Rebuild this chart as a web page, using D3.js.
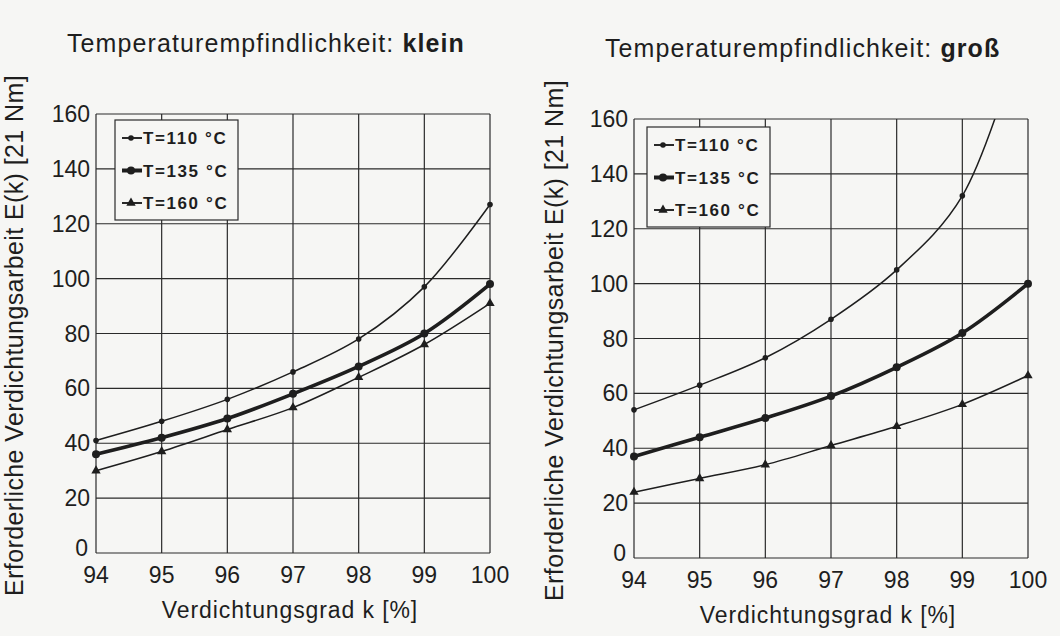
<!DOCTYPE html>
<html>
<head>
<meta charset="utf-8">
<script src="https://cdn.jsdelivr.net/npm/d3@7"></script>
<style>
  body { margin: 0; background: #f6f6f4; }
  svg { display: block; font-family: "Liberation Sans", Arial, sans-serif; }
</style>
</head>
<body>
<svg id="chart" width="1060" height="636"></svg>
<script>
// compaction degree k [%]
var kValues = [94, 95, 96, 97, 98, 99, 100];
var yTicks = [0, 20, 40, 60, 80, 100, 120, 140, 160];
var seriesNames = ["T=110 °C", "T=135 °C", "T=160 °C"];

// Temperaturempfindlichkeit: klein
var kleinT110 = [41, 48, 56, 66, 78, 97, 127];
var kleinT135 = [36, 42, 49, 58, 68, 80, 98];
var kleinT160 = [30, 37, 45, 53, 64, 76, 91];

// Temperaturempfindlichkeit: groß
var grossT110 = [54, 63, 73, 87, 105, 132, 198];
var grossT135 = [37, 44, 51, 59, 69.5, 82, 100];
var grossT160 = [24, 29, 34, 41, 48, 56, 66.5];

var ink = "#1e1e1e";
var svg = d3.select("#chart");

function drawPanel(opt) {
    var x = d3.scaleLinear().domain([94, 100]).range([opt.left, opt.right]);
    var y = d3.scaleLinear().domain([0, 160]).range([opt.bottom, opt.top]);
    var g = svg.append("g");

    // grid
    g.append("g").selectAll("line.v").data(kValues).enter().append("line")
        .attr("x1", function (d) { return x(d); }).attr("x2", function (d) { return x(d); })
        .attr("y1", y(0)).attr("y2", y(160))
        .attr("stroke", "#2a2a2a").attr("stroke-width", 1.2);
    g.append("g").selectAll("line.h").data(yTicks).enter().append("line")
        .attr("x1", x(94)).attr("x2", x(100))
        .attr("y1", function (d) { return y(d); }).attr("y2", function (d) { return y(d); })
        .attr("stroke", "#2a2a2a").attr("stroke-width", 1.2);

    // tick labels
    g.append("g").selectAll("text").data(yTicks).enter().append("text")
        .attr("x", function (d) { return x(94) - (d === 0 ? 8 : 6); })
        .attr("y", function (d) { return y(d) + (d === 0 ? 3 : 8); })
        .attr("text-anchor", "end").attr("font-size", 23).attr("fill", ink)
        .text(function (d) { return d; });
    g.append("g").selectAll("text").data(kValues).enter().append("text")
        .attr("x", function (d) { return x(d); }).attr("y", y(0) + 30)
        .attr("text-anchor", "middle").attr("font-size", 23).attr("fill", ink)
        .text(function (d) { return d; });

    // axis titles
    g.append("text")
        .attr("x", (x(94) + x(100)) / 2 - 3).attr("y", y(0) + 65)
        .attr("text-anchor", "middle").attr("font-size", 23).attr("letter-spacing", 0.9).attr("fill", ink)
        .text("Verdichtungsgrad k [%]");
    g.append("text")
        .attr("transform", "translate(" + (x(94) - opt.yLabDx) + "," + ((y(0) + y(160)) / 2 + 2) + ") rotate(-90)")
        .attr("text-anchor", "middle").attr("font-size", 25).attr("letter-spacing", 0.4).attr("fill", ink)
        .text("Erforderliche Verdichtungsarbeit E(k)  [21 Nm]");

    // title
    var t = g.append("text").attr("x", opt.titleX).attr("y", opt.titleY)
        .attr("font-size", 25).attr("letter-spacing", 1.1).attr("fill", ink);
    t.append("tspan").text("Temperaturempfindlichkeit: ");
    t.append("tspan").attr("font-weight", "bold").text(opt.word);

    // series
    var clipId = "clip" + opt.word.length;
    svg.append("clipPath").attr("id", clipId).append("rect")
        .attr("x", x(94) - 10).attr("y", y(160)).attr("width", x(100) - x(94) + 20).attr("height", y(0) - y(160) + 10);

    var line = d3.line()
        .x(function (d, i) { return x(kValues[i]); })
        .y(function (d) { return y(d); })
        .curve(d3.curveCatmullRom.alpha(0.5));

    var widths = [1.5, 3.6, 1.5];
    var plot = g.append("g").attr("clip-path", "url(#" + clipId + ")");
    opt.series.forEach(function (vals, s) {
        plot.append("path").attr("d", line(vals))
            .attr("fill", "none").attr("stroke", ink).attr("stroke-width", widths[s]);
        vals.forEach(function (v, i) {
            if (v > 160) return;
            drawMarker(plot, s, x(kValues[i]), y(v));
        });
    });

    // legend
    var lg = g.append("g").attr("transform", "translate(" + opt.legX + "," + opt.legY + ")");
    lg.append("rect").attr("width", 123).attr("height", 100)
        .attr("fill", "#f6f6f4").attr("stroke", "#2a2a2a").attr("stroke-width", 1.2);
    seriesNames.forEach(function (name, s) {
        var yy = 18 + s * 32.5;
        lg.append("line").attr("x1", 7).attr("x2", 27).attr("y1", yy).attr("y2", yy)
            .attr("stroke", ink).attr("stroke-width", widths[s] + 0.4);
        drawMarker(lg, s, 16, yy);
        lg.append("text").attr("x", 28).attr("y", yy + 6)
            .attr("font-size", 17).attr("font-weight", "bold").attr("letter-spacing", 1.6).attr("fill", ink)
            .text(name);
    });
}

function drawMarker(sel, s, cx, cy) {
    if (s === 0) {
        sel.append("circle").attr("cx", cx).attr("cy", cy).attr("r", 2.8).attr("fill", ink);
    } else if (s === 1) {
        sel.append("circle").attr("cx", cx).attr("cy", cy).attr("r", 4).attr("fill", ink);
    } else {
        sel.append("path")
            .attr("d", d3.symbol().type(d3.symbolTriangle).size(38)())
            .attr("transform", "translate(" + cx + "," + cy + ")")
            .attr("fill", ink);
    }
}

drawPanel({
    left: 96, right: 490, top: 114, bottom: 553,
    titleX: 67, titleY: 52, word: "klein", yLabDx: 73,
    legX: 115, legY: 120,
    series: [kleinT110, kleinT135, kleinT160]
});

drawPanel({
    left: 634, right: 1028, top: 119, bottom: 558,
    titleX: 605, titleY: 57, word: "groß", yLabDx: 71,
    legX: 647, legY: 127,
    series: [grossT110, grossT135, grossT160]
});
</script>
</body>
</html>
